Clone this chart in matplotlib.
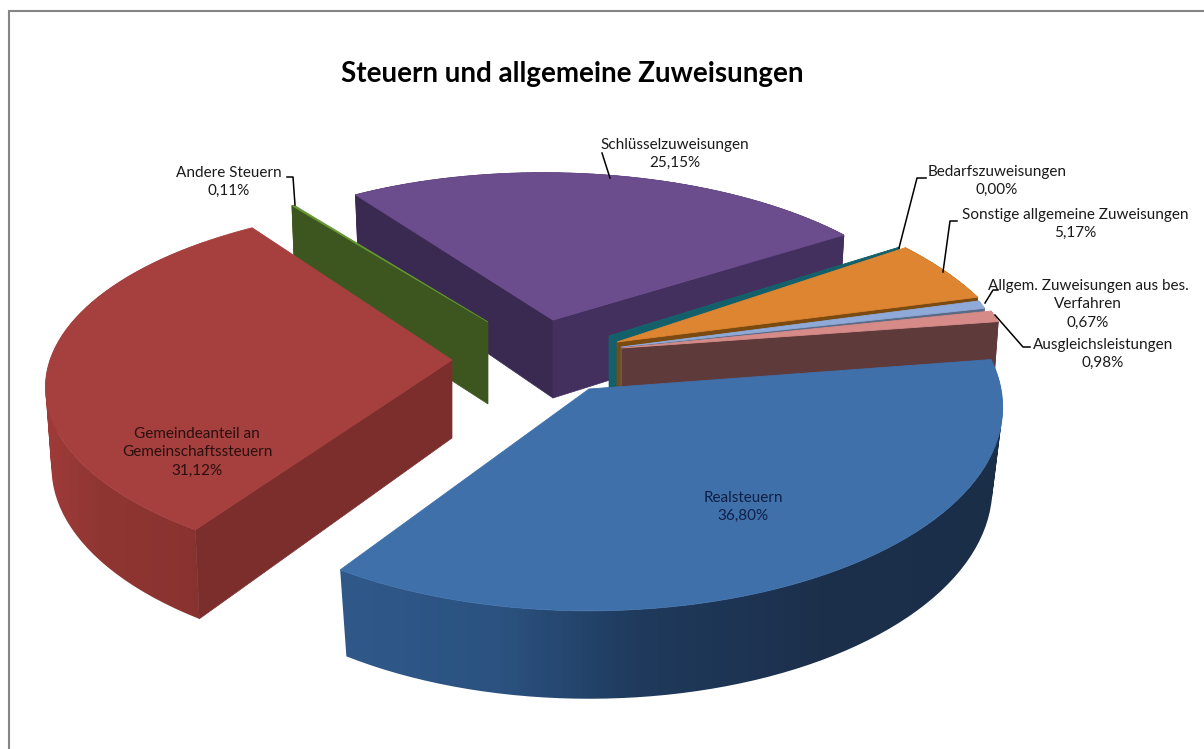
import numpy as np
import matplotlib
matplotlib.use("Agg")
import matplotlib.pyplot as plt
from matplotlib.colors import to_rgb
from matplotlib.patches import Polygon, PathPatch
from matplotlib.path import Path

plt.rcParams['font.family'] = ['Lato', 'DejaVu Sans']

# data, in drawing order of the original pie (clockwise)
names = ["Realsteuern", "Gemeindeanteil an\nGemeinschaftssteuern", "Andere Steuern",
         "Schlüsselzuweisungen", "Bedarfszuweisungen", "Sonstige allgemeine Zuweisungen",
         "Allgem. Zuweisungen aus bes.\nVerfahren", "Ausgleichsleistungen"]
shares = [36.80, 31.12, 0.11, 25.15, 0.00, 5.17, 0.67, 0.98]
title = "Steuern und allgemeine Zuweisungen"

first_angle = -8.5

# look of each slice: apex, radius, tilt, perspective
apex_x = [589, 452, 488, 553, 609, 617, 621, 622]
apex_y = [389, 360, 322, 320, 336, 342, 347, 348]
radius = [412, 402, 390, 380, 372, 395, 382, 388]
tilt = [0.49, 0.446, 0.40, 0.44, 0.47, 0.47, 0.50, 0.47]
persp = [0.09, 0.15, 0.135, 0.135, 0.135, 0.135, 0.135, 0.135]
shear = [0, 0, 0, 0.03, 0, 0.1, 0, 0]
depth = [80, 78, 82, 78, 80, 78, 78, 78]
shrink = [0.975, 0.985, 0.985, 0.985, 0.985, 0.985, 0.985, 0.985]
top_col = ["#3f70aa", "#a5403e", "#639632", "#6b4c8d", "#14656f", "#dd8530", "#8faad8", "#d68b88"]
cut_col = ["#2f5a8c", "#7c2e2c", "#3d5620", "#3a2a52", "#14606a", "#7a4a10", "#5a6a85", "#5f3a3a"]
cut2_col = ["#2f5a8c", "#7c2e2c", "#3d5620", "#43305e", "#14606a", "#7a4a10", "#5a6a85", "#5f3a3a"]
wall_col = ["#1e3656", "#8c3431", "#3d5620", "#3a2a52", "#14606a", "#8a5010", "#6a7a95", "#7a4545"]
# outer wall shading across x for the two front slices
wall_stops = {0: ([340, 500, 640, 820, 1005], ["#30598a", "#2b5280", "#1f3a5c", "#1c304c", "#1b2e48"]),
              1: ([40, 100, 205], ["#a03c3a", "#903632", "#88322f"])}
paint_order = [3, 4, 5, 6, 7, 2, 1, 0]

# label positions and leader lines
label_x = [743, 197, 229, 675, 997, 1075, 1088, 1103]
label_y = [507, 452, 182, 154, 181, 224, 304, 354]
label_col = ["#0f1f45", "#2a0f0f", "#1a1a1a", "#1a1a1a", "#1a1a1a", "#1a1a1a", "#1a1a1a", "#1a1a1a"]
leaders = [None, None,
           [(287, 177), (293, 177), (295, 205)],
           [(602, 153), (610, 178)],
           [(926, 178), (917, 178), (899, 248)],
           [(957, 221), (950, 221), (943, 272)],
           [(998, 290), (993, 290), (985, 303)],
           [(1030, 347), (1023, 347), (995, 315)]]


def rim(i, ang):
    a = np.radians(ang)
    ux, uy = np.cos(a), np.sin(a)
    s = 1 / (1 - persp[i] * uy)
    x = radius[i] * (ux + shear[i] * uy) * s
    y = radius[i] * uy * tilt[i] * s
    top = (apex_x[i] + x, apex_y[i] + y)
    bot = (apex_x[i] + x * shrink[i], apex_y[i] + y + depth[i] * s)
    return top, bot


def wall_path(tops, bots):
    # one quad per arc step, all wound the same way so the fill has no holes
    quads = []
    for k in range(len(tops) - 1):
        q = np.array([tops[k], tops[k + 1], bots[k + 1], bots[k], tops[k]])
        area = np.sum(q[:-1, 0] * q[1:, 1] - q[1:, 0] * q[:-1, 1])
        if area < 0:
            q = q[::-1]
        quads.append(Path(q, closed=True))
    return Path.make_compound_path(*quads)


fig = plt.figure(figsize=(12.04, 7.49), dpi=100, facecolor="white")
ax = fig.add_axes([0, 0, 1, 1])

# frame
ax.plot([9, 9, 1204], [749, 11, 11], color="#858585", lw=1.5, solid_joinstyle="miter")

starts = first_angle + np.concatenate(([0], np.cumsum(shares))) * 3.6
z = 2

for i in paint_order:
    a0 = starts[i]
    a1 = starts[i + 1]
    n = max(int((a1 - a0) / 2), 1)
    angs = np.linspace(a0, a1, n + 1)
    apex = (apex_x[i], apex_y[i])
    apex_b = (apex_x[i], apex_y[i] + depth[i])

    # outer wall
    tops = [rim(i, a)[0] for a in angs]
    bots = [rim(i, a)[1] for a in angs]
    wall = wall_path(tops, bots)
    if i in wall_stops:
        xs, cols = wall_stops[i]
        rgb = np.array([to_rgb(c) for c in cols])
        grid = np.linspace(xs[0], xs[-1], 300)
        strip = np.stack([np.interp(grid, xs, rgb[:, k]) for k in range(3)], axis=1)[None, :, :]
        yy = [p[1] for p in tops + bots]
        clip = PathPatch(wall, fc="none", ec="none", zorder=z)
        ax.add_patch(clip)
        im = ax.imshow(strip, extent=(xs[0], xs[-1], max(yy), min(yy)), aspect="auto", zorder=z)
        im.set_clip_path(clip)
    else:
        ax.add_patch(PathPatch(wall, fc=wall_col[i], ec=wall_col[i], lw=0.5, zorder=z))
    z += 1

    # cut faces, only those turned to the viewer
    if np.sin(np.radians(a0 - 90)) > 0:
        t0, b0 = rim(i, a0)
        ax.add_patch(Polygon([apex, t0, b0, apex_b], closed=True, fc=cut_col[i], ec=cut_col[i], lw=0.5, zorder=z))
    if np.sin(np.radians(a1 + 90)) > 0:
        t1, b1 = rim(i, a1)
        ax.add_patch(Polygon([apex, t1, b1, apex_b], closed=True, fc=cut2_col[i], ec=cut2_col[i], lw=0.5, zorder=z))
    z += 1

    # top face
    ax.add_patch(Polygon([apex] + tops, closed=True, fc=top_col[i], ec=top_col[i], lw=0.6, zorder=z))
    z += 1

ax.text(572, 74, title, ha="center", va="center", fontsize=20, fontweight="bold", color="black", zorder=z)

for i in range(len(shares)):
    txt = names[i] + "\n" + f"{shares[i]:.2f}".replace(".", ",") + "%"
    ax.text(label_x[i], label_y[i], txt, ha="center", va="center", fontsize=11,
            color=label_col[i], linespacing=1.4, zorder=z)
    if leaders[i] is not None:
        ax.plot([p[0] for p in leaders[i]], [p[1] for p in leaders[i]], color="black", lw=1.1, zorder=z)

ax.set_xlim(0, 1204)
ax.set_ylim(749, 0)
ax.axis("off")

fig.savefig("out.png", dpi=100)
